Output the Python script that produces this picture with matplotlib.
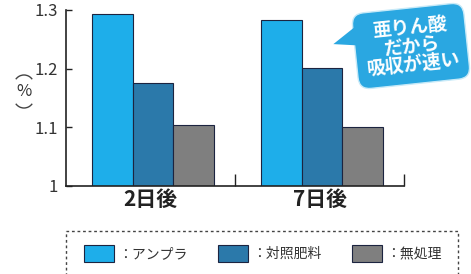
import numpy as np
import matplotlib
matplotlib.use('Agg')
import matplotlib.pyplot as plt
import matplotlib.transforms as mtransforms
from matplotlib.patches import FancyBboxPatch, Polygon, Rectangle, Arc

plt.rcParams['font.family'] = ['Noto Sans CJK JP', 'DejaVu Sans']

categories = ['2日後', '7日後']
series_names = ['：アンプラ', '：対照肥料', '：無処理']
ampura = [1.293, 1.283]
taisho = [1.175, 1.201]
mushori = [1.104, 1.101]
colors = ['#1eaeea', '#2b79aa', '#7f7f7f']
yticks = [1.0, 1.1, 1.2, 1.3]
ytick_labels = ['1', '1.1', '1.2', '1.3']

W, H = 471, 274
fig = plt.figure(figsize=(W / 100, H / 100), dpi=100)
ax = fig.add_axes([66 / W, (H - 186) / H, 338 / W, 176 / H])
pix = mtransforms.Affine2D().scale(1 / W, 1 / H) + fig.transFigure

ind = np.arange(len(categories)) + 0.015
width = 0.24
for i, vals in enumerate([ampura, taisho, mushori]):
    ax.bar(ind + (i - 1) * width, vals, width, color=colors[i],
           edgecolor='#1c2440', linewidth=0.8, zorder=2)

ax.set_xlim(-0.5, 1.5)
ax.set_ylim(1.0, 1.3)
ax.set_yticks(yticks)
ax.set_yticklabels(ytick_labels, fontsize=12, color='#333333')
ax.set_xticks(np.arange(len(categories)))
ax.set_xticklabels(categories, fontsize=15, fontweight='bold', color='#222222')
ax.tick_params(axis='x', length=0, pad=2)
ax.tick_params(axis='y', direction='in', length=4, width=1, pad=6, color='#222222')
ax.set_xticks([0.5, 1.5], minor=True)
ax.tick_params(axis='x', which='minor', direction='in', length=9, width=1, color='#222222')
for s in ['top', 'right']:
    ax.spines[s].set_visible(False)
for s in ['left', 'bottom']:
    ax.spines[s].set_color('#222222')
    ax.spines[s].set_linewidth(1.2)

# y label: % between sideways parentheses
fig.add_artist(Arc((24, H - 85), 20, 20, theta1=35, theta2=145,
                   transform=pix, color='#444444', linewidth=1))
fig.add_artist(Arc((24, H - 98), 20, 20, theta1=215, theta2=325,
                   transform=pix, color='#444444', linewidth=1))
fig.text(24 / W, 1 - 92 / H, '%', ha='center', va='center',
         fontsize=12, color='#333333')

# speech bubble, tilted
bubble_color = '#2aa7e1'
rot = mtransforms.Affine2D().rotate_deg_around(411, 228, 6) + pix
bub = FancyBboxPatch((355, 190), 112, 76,
                     boxstyle='round,pad=0,rounding_size=12',
                     transform=rot, facecolor=bubble_color,
                     edgecolor='#c8eaf8', linewidth=1, zorder=5)
fig.add_artist(bub)
tail = Polygon([(334, 238), (359, 254), (359, 234)],
               closed=True, transform=rot, facecolor=bubble_color,
               edgecolor='none', zorder=6)
fig.add_artist(tail)
fig.text(412 / W, 1 - 46 / H, '亜りん酸\nだから\n吸収が速い', ha='center', va='center',
         fontsize=13.5, fontweight='bold', color='white', rotation=6,
         linespacing=1.0, zorder=7)

# legend box
fig.add_artist(Rectangle((66 / W, -10 / H), 392 / W, (10 + H - 231) / H,
                         transform=fig.transFigure, fill=False, edgecolor='#444444',
                         linewidth=1, linestyle=(0, (2, 2)), clip_on=False))
leg_x = [84, 218, 352]
for i, name in enumerate(series_names):
    fig.add_artist(Rectangle((leg_x[i] / W, 1 - 262 / H), 30 / W, 17 / H,
                             transform=fig.transFigure, facecolor=colors[i],
                             edgecolor='#1c2440', linewidth=0.8))
    fig.text((leg_x[i] + 34) / W, 1 - 254 / H, name, ha='left', va='center',
             fontsize=10, color='#333333')

fig.savefig('out.png', dpi=100)
